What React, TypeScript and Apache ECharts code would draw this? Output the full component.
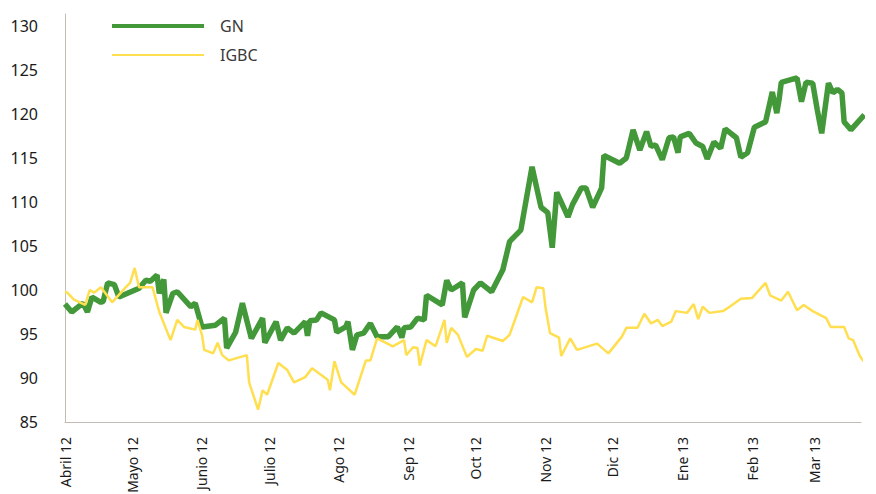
import React, { useEffect, useRef } from "react";
import * as echarts from "echarts";

// Month labels and the day (since 1 Apr 2012) where each month starts
const monthLabels = ["Abril 12", "Mayo 12", "Junio 12", "Julio 12", "Ago 12", "Sep 12", "Oct 12", "Nov 12", "Dic 12", "Ene 13", "Feb 13", "Mar 13"];
const monthStartDays = [0, 30, 61, 91, 122, 153, 183, 214, 244, 275, 306, 334];
const yTicks = [85, 90, 95, 100, 105, 110, 115, 120, 125, 130];

// GN series (day, value)
const dayGN = [0, 3, 8, 10, 12, 16, 17, 19, 22, 24, 33, 36, 38, 41, 42, 44, 45, 48, 50, 56, 58, 61, 67, 71, 72, 76, 79, 83, 88, 89, 94, 96, 99, 102, 107, 108, 109, 112, 114, 120, 121, 125, 126, 128, 130, 133, 136, 139, 144, 148, 150, 151, 154, 157, 160, 161, 168, 170, 172, 177, 178, 182, 185, 190, 195, 198, 203, 208, 212, 215, 217, 219, 224, 226, 230, 232, 235, 239, 240, 247, 250, 253, 256, 259, 261, 263, 266, 269, 271, 273, 274, 278, 281, 284, 286, 289, 292, 294, 299, 301, 304, 307, 312, 315, 317, 318, 319, 326, 328, 330, 333, 335, 337, 340, 342, 344, 346, 347, 350, 356];
const valGN = [98.4, 97.5, 98.5, 97.5, 99.2, 98.6, 98.7, 100.8, 100.6, 99.2, 100.2, 101.1, 101.0, 101.7, 99.6, 101.2, 97.4, 99.6, 99.8, 98.1, 98.5, 95.8, 96.0, 96.8, 93.4, 95.2, 98.5, 94.5, 96.8, 94.0, 96.4, 94.3, 95.7, 95.1, 96.4, 94.8, 96.5, 96.6, 97.4, 96.6, 95.2, 95.8, 96.4, 93.2, 94.9, 95.1, 96.2, 94.7, 94.7, 95.8, 94.6, 95.7, 95.8, 96.8, 96.6, 99.4, 98.3, 101.1, 100.0, 100.8, 96.9, 100.0, 100.8, 99.8, 102.3, 105.5, 106.8, 114.0, 109.4, 108.8, 104.8, 111.1, 108.3, 109.7, 111.6, 111.6, 109.4, 111.6, 115.3, 114.4, 115.0, 118.2, 115.9, 118.0, 116.3, 116.5, 114.8, 117.3, 117.4, 115.6, 117.4, 117.8, 116.7, 116.3, 114.9, 116.8, 116.1, 118.3, 117.3, 115.1, 115.6, 118.5, 119.1, 122.5, 120.1, 121.6, 123.6, 124.1, 121.4, 123.6, 123.5, 120.5, 117.8, 123.5, 122.4, 122.8, 122.4, 119.1, 118.2, 119.9];

// IGBC series (day, value)
const dayIGBC = [0, 1, 4, 9, 11, 13, 16, 21, 27, 29, 31, 33, 39, 42, 47, 50, 53, 58, 59, 61, 62, 66, 68, 70, 73, 81, 82, 86, 88, 90, 95, 99, 102, 107, 110, 117, 118, 120, 123, 129, 134, 136, 139, 146, 151, 152, 155, 157, 158, 161, 165, 169, 170, 172, 175, 179, 183, 186, 188, 195, 198, 204, 208, 210, 213, 214, 216, 220, 221, 225, 228, 237, 242, 248, 250, 255, 258, 261, 264, 266, 270, 272, 277, 280, 282, 284, 287, 293, 296, 301, 306, 312, 314, 319, 322, 326, 329, 333, 339, 341, 347, 349, 351, 354, 356, 361];
const valIGBC = [99.8, 99.7, 98.9, 98.3, 100.0, 99.7, 100.3, 98.6, 100.3, 100.8, 102.5, 100.3, 100.3, 97.5, 94.3, 96.6, 95.8, 95.5, 96.6, 94.9, 93.2, 92.8, 94.0, 92.6, 92.0, 92.6, 89.5, 86.4, 88.6, 88.1, 91.7, 90.9, 89.5, 90.1, 91.1, 89.8, 88.6, 91.9, 89.5, 88.1, 92.0, 92.0, 94.5, 93.6, 94.3, 92.6, 93.5, 93.4, 91.4, 94.3, 93.6, 96.6, 94.0, 95.7, 94.9, 92.4, 93.3, 93.1, 94.8, 94.2, 94.9, 99.2, 98.6, 100.3, 100.2, 98.0, 95.1, 94.6, 92.5, 94.5, 93.2, 93.9, 92.8, 94.7, 95.7, 95.7, 97.3, 96.2, 96.6, 95.9, 96.4, 97.6, 97.4, 98.4, 96.7, 98.1, 97.4, 97.6, 98.1, 99.0, 99.1, 100.8, 99.4, 98.8, 99.8, 97.7, 98.3, 97.6, 96.8, 95.8, 95.8, 94.5, 94.3, 92.5, 91.8, 93.1];

const GREEN = "#43983a";
const YELLOW = "#ffdf4f";

export default function App() {
  const ref = useRef<HTMLDivElement>(null);
  useEffect(() => {
    if (!ref.current) return;
    const chart = echarts.init(ref.current, null, { renderer: "svg" });
    const font = "'Noto Sans', 'Open Sans', sans-serif";
    chart.setOption({
      animation: false,
      backgroundColor: "#ffffff",
      grid: { left: 65, right: 15, top: 14, bottom: 72, containLabel: false, outerBoundsMode: "none" },
      legend: {
        orient: "vertical",
        left: 107,
        top: 13,
        itemWidth: 92,
        itemHeight: 16,
        itemGap: 13,
        symbolKeepAspect: true,
        data: [
          { name: "GN", icon: "path://M0 0H92V4H0Z", itemStyle: { color: GREEN } },
          { name: "IGBC", icon: "path://M0 0H92V2H0Z", itemStyle: { color: YELLOW } },
        ],
        textStyle: { fontFamily: font, fontSize: 16, color: "#3a3a3a", padding: [0, 0, 0, 11] },
      },
      xAxis: {
        type: "value",
        min: 0,
        max: 354.5,
        splitLine: { show: false },
        axisTick: { show: false },
        axisLine: { show: true, lineStyle: { color: "#c3bbb3", width: 1 } },
        axisLabel: {
          customValues: monthStartDays,
          formatter: (v: number) => {
            const i = monthStartDays.indexOf(Math.round(v));
            return i >= 0 ? monthLabels[i] : "";
          },
          rotate: 90,
          margin: 15,
          fontFamily: font,
          fontSize: 14,
          color: "#1a1a1a",
        },
      },
      yAxis: {
        type: "value",
        min: 85,
        max: 131.36,
        splitLine: { show: false },
        axisTick: { show: false },
        axisLine: { show: true, lineStyle: { color: "#c3bbb3", width: 1 } },
        axisLabel: {
          customValues: yTicks,
          margin: 27,
          fontFamily: font,
          fontSize: 16,
          color: "#1a1a1a",
        },
      },
      series: [
        {
          name: "GN",
          type: "line",
          symbol: "none",
          clip: false,
          data: dayGN.map((d, i) => [d, valGN[i]]),
          lineStyle: { color: GREEN, width: 5.5 },
          itemStyle: { color: GREEN },
        },
        {
          name: "IGBC",
          type: "line",
          symbol: "none",
          clip: false,
          data: dayIGBC.map((d, i) => [d, valIGBC[i]]),
          lineStyle: { color: YELLOW, width: 2.5 },
          itemStyle: { color: YELLOW },
        },
      ],
    });
    return () => chart.dispose();
  }, []);
  return <div ref={ref} style={{ position: "fixed", left: 0, top: 0, width: 876, height: 494 }} />;
}
